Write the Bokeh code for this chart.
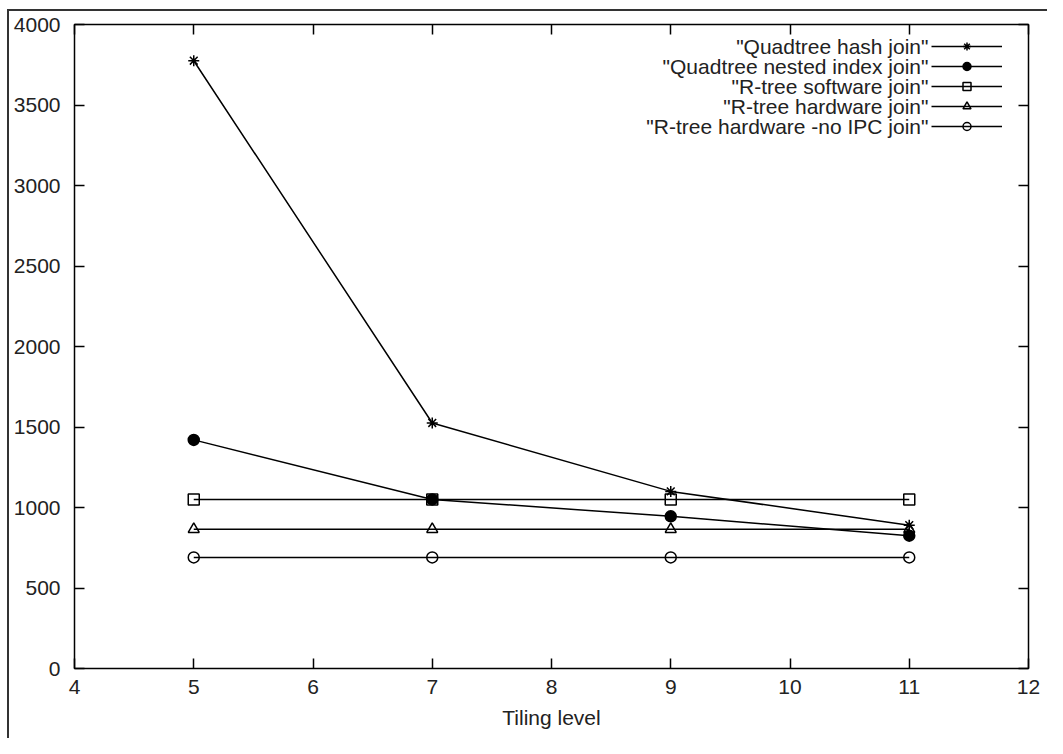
from bokeh.plotting import figure
from bokeh.models import (Range1d, LinearAxis, FixedTicker, Legend, LegendItem,
                          Label, CustomJSTickFormatter)
from bokeh.embed import file_html
from bokeh.resources import INLINE
from bokeh.core.properties import value

# ---- data ----
tiling_level = [5, 7, 9, 11]
quadtree_hash = [3775, 1525, 1100, 890]
quadtree_nested = [1420, 1050, 945, 825]
rtree_software = [1050, 1050, 1050, 1050]
rtree_hardware = [865, 865, 865, 865]
rtree_hw_noipc = [690, 690, 690, 690]

series_names = ['"Quadtree hash join"', '"Quadtree nested index join"',
                '"R-tree software join"', '"R-tree hardware join"',
                '"R-tree hardware -no IPC join"']
series_values = [quadtree_hash, quadtree_nested, rtree_software,
                 rtree_hardware, rtree_hw_noipc]
series_markers = ["asterisk", "circle", "square", "triangle", "circle"]
series_filled = [False, True, False, False, False]

x_ticks = list(range(4, 13))
y_ticks = list(range(0, 4001, 500))
x_label = "Tiling level"

FONT = "Liberation Sans"
FS = "21px"
TXT = "#222222"

W, H = 1047, 738
ML, MT, MR, MB = 74, 24, 19, 70
frame_w = W - ML - MR
frame_h = H - MT - MB

p = figure(width=W, height=H, x_range=Range1d(4, 12), y_range=Range1d(0, 4000),
           output_backend="svg", toolbar_location=None,
           min_border_left=ML, min_border_top=MT, min_border_right=MR,
           min_border_bottom=MB)
# outer page frame (left and top edges visible, as in the reference crop)
p.styles = {"background": "linear-gradient(#333333,#333333) 7px 9px / 2px calc(100% - 9px) no-repeat, "
                          "linear-gradient(#333333,#333333) 7px 9px / calc(100% - 7px) 2px no-repeat, "
                          "#ffffff"}
p.border_fill_alpha = 0
p.grid.visible = False
p.outline_line_color = "black"
p.outline_line_width = 1.5
p.background_fill_color = "white"

for ax in (p.xaxis[0], p.yaxis[0]):
    ax.major_tick_in = 10
    ax.major_tick_out = 0
    ax.minor_tick_line_color = None
    ax.axis_line_color = None
    ax.major_tick_line_color = "black"
    ax.major_tick_line_width = 1.5
    ax.major_label_text_font = FONT
    ax.major_label_text_font_size = FS
    ax.major_label_text_color = TXT

p.xaxis[0].ticker = FixedTicker(ticks=x_ticks)
p.yaxis[0].ticker = FixedTicker(ticks=y_ticks)
p.xaxis[0].major_label_standoff = 11
p.yaxis[0].major_label_standoff = 14
p.xaxis[0].axis_label = x_label
p.xaxis[0].axis_label_text_font = FONT
p.xaxis[0].axis_label_text_font_size = FS
p.xaxis[0].axis_label_text_font_style = "normal"
p.xaxis[0].axis_label_text_color = TXT
p.xaxis[0].axis_label_standoff = 9

blank = CustomJSTickFormatter(code="return ''")
top_ax = LinearAxis(ticker=FixedTicker(ticks=x_ticks), formatter=blank,
                    major_tick_in=10, major_tick_out=0, minor_tick_line_color=None,
                    axis_line_color=None, major_label_standoff=0,
                    major_tick_line_width=1.5)
right_ax = LinearAxis(ticker=FixedTicker(ticks=y_ticks), formatter=blank,
                      major_tick_in=10, major_tick_out=0, minor_tick_line_color=None,
                      axis_line_color=None, major_label_standoff=0,
                      major_tick_line_width=1.5)
p.add_layout(top_ax, "above")
p.add_layout(right_ax, "right")

items = []
for name, vals, mk, filled in zip(series_names, series_values, series_markers, series_filled):
    lr = p.line(tiling_level, vals, line_color="black", line_width=1.5)
    sr = p.scatter(tiling_level, vals, marker=mk, size=11, line_color="black",
                   line_width=1.5, fill_color="black" if filled else None)
    items.append(LegendItem(label=value(""), renderers=[lr, sr]))

# legend: samples on the right, text right-aligned to their left
row0 = 22      # px below frame top for first row centre
row_h = 20
legend = Legend(items=items,
                location=(857, frame_h - (row0 - row_h // 2) - row_h * 5),
                glyph_width=71, glyph_height=row_h, spacing=0, padding=0, margin=0,
                label_width=0, label_standoff=0, label_height=0,
                border_line_color=None, background_fill_alpha=0)
p.add_layout(legend)

for i, name in enumerate(series_names):
    p.add_layout(Label(x=854, y=frame_h - row0 - row_h * i, x_units="screen",
                       y_units="screen", text=name, text_align="right",
                       text_baseline="middle", text_font=FONT, text_font_size=FS,
                       text_color=TXT))

open("out.html", "w").write(file_html(p, INLINE))
